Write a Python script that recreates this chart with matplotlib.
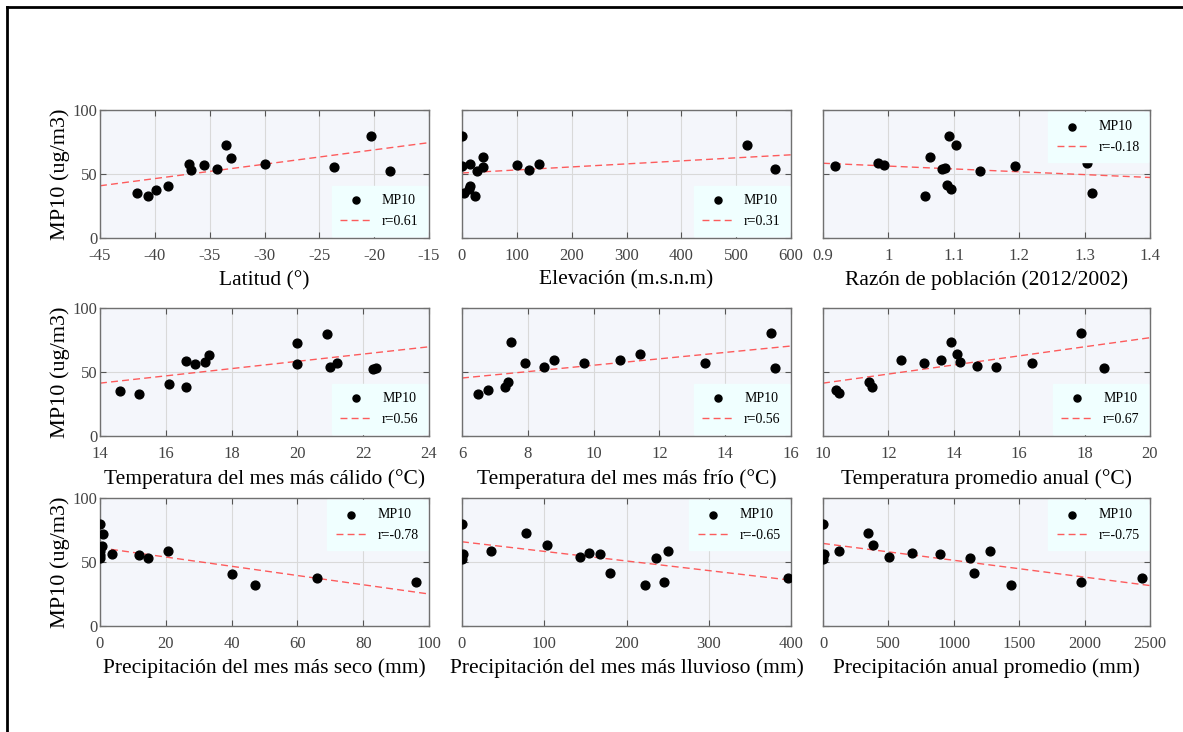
import numpy as np
import matplotlib
matplotlib.use("Agg")
import matplotlib.pyplot as plt
from matplotlib.lines import Line2D
from matplotlib.ticker import FormatStrFormatter

plt.rcParams['font.family'] = ['Liberation Serif', 'DejaVu Serif']

# values
lat_x = [-41.6, -40.6, -39.9, -38.8, -36.9, -36.7, -35.5, -34.3, -33.5, -33.1, -30.0, -23.7, -20.3, -18.6]
lat_y = [35.0, 32.9, 37.6, 40.5, 58.2, 53.4, 57.1, 53.9, 72.9, 62.6, 57.9, 55.8, 79.5, 52.1]

elev_x = [0, 0, 14, 39, 38, 27, 14, 12, 4, 23, 101, 122, 141, 519, 571]
elev_y = [79.7, 56.6, 58.2, 62.9, 55.8, 52.4, 40.8, 38.4, 35.0, 32.9, 57.4, 53.2, 58.2, 72.9, 53.9]

raz_x = [0.918, 0.984, 0.994, 1.064, 1.092, 1.104, 1.082, 1.087, 1.089, 1.095, 1.056, 1.140, 1.194, 1.303, 1.311]
raz_y = [56.4, 58.7, 57.1, 63.1, 80.0, 72.7, 53.8, 54.5, 41.6, 38.0, 33.2, 52.5, 56.4, 58.7, 35.3]

tcal_x = [14.6, 15.2, 16.1, 16.6, 16.6, 16.9, 17.2, 17.3, 20.0, 20.0, 20.9, 21.0, 21.2, 22.3, 22.4]
tcal_y = [35.3, 33.2, 40.5, 37.9, 58.4, 56.6, 58.2, 62.9, 72.9, 56.3, 80.0, 53.9, 57.4, 52.6, 53.4]

tfri_x = [6.5, 6.8, 7.3, 7.4, 7.5, 7.9, 8.5, 8.8, 9.7, 10.8, 11.4, 13.4, 15.4, 15.5]
tfri_y = [33.2, 35.6, 38.5, 41.9, 73.4, 57.4, 54.2, 59.2, 56.8, 59.2, 63.9, 57.1, 80.8, 52.9]

tprom_x = [10.4, 10.5, 11.4, 11.5, 12.4, 13.1, 13.6, 13.9, 14.1, 14.2, 14.7, 15.3, 16.4, 17.9, 18.6]
tprom_y = [35.8, 33.4, 42.1, 38.4, 59.5, 56.8, 59.5, 73.4, 63.7, 57.6, 54.7, 54.2, 56.8, 80.8, 52.9]

pseco_x = [0, 1, 0.5, 0, 0, 0, 3.7, 11.8, 14.7, 20.7, 40, 47, 65.9, 96]
pseco_y = [79.7, 72.1, 62.6, 58.4, 55.5, 52.9, 56.3, 55.5, 52.9, 58.4, 40.5, 32.1, 37.4, 34.5]

plluv_x = [0, 1, 0, 78, 35, 103, 143, 154, 168, 180, 223, 236, 246, 250, 396]
plluv_y = [80.0, 56.6, 52.6, 72.6, 58.4, 63.2, 53.7, 56.8, 56.6, 41.1, 32.4, 53.4, 34.7, 58.4, 37.6]

panu_x = [0, 5, 0, 121, 341, 384, 503, 682, 894, 1126, 1154, 1273, 1434, 1970, 2442]
panu_y = [80.0, 56.6, 52.6, 58.4, 72.6, 63.2, 53.7, 56.8, 56.3, 53.4, 41.1, 58.4, 32.4, 34.7, 37.6]

# trend line ends (value at left and right x limit)
fit_ends = [[40.8, 74.5], [50.8, 65.0], [58.4, 47.3],
            [41.3, 69.7], [45.3, 70.3], [41.3, 76.8],
            [61.1, 25.0], [65.8, 35.8], [64.5, 31.6]]
r_labels = ["r=0.61", "r=0.31", "r=-0.18", "r=0.56", "r=0.56", "r=0.67",
            "r=-0.78", "r=-0.65", "r=-0.75"]
xlabels = ["Latitud (°)", "Elevación (m.s.n.m)", "Razón de población (2012/2002)",
           "Temperatura del mes más cálido (°C)", "Temperatura del mes más frío (°C)",
           "Temperatura promedio anual (°C)",
           "Precipitación del mes más seco (mm)", "Precipitación del mes más lluvioso (mm)",
           "Precipitación anual promedio (mm)"]
xlims = [(-45, -15), (0, 600), (0.9, 1.4), (14, 24), (6, 16), (10, 20),
         (0, 100), (0, 400), (0, 2500)]
xsteps = [5, 100, 0.1, 2, 2, 2, 20, 100, 500]
leg_locs = ["lower right", "lower right", "upper right",
            "lower right", "lower right", "lower right",
            "upper right", "upper right", "upper right"]

xs = [lat_x, elev_x, raz_x, tcal_x, tfri_x, tprom_x, pseco_x, plluv_x, panu_x]
ys = [lat_y, elev_y, raz_y, tcal_y, tfri_y, tprom_y, pseco_y, plluv_y, panu_y]

fig = plt.figure(figsize=(11.83, 7.32), dpi=100)

lefts = [100, 462, 823]
widths = [329, 329, 327]
tops = [110, 308, 498]
H = 128

for i in range(9):
    row, col = divmod(i, 3)
    ax = fig.add_axes([lefts[col] / 1183, 1 - (tops[row] + H) / 732,
                       widths[col] / 1183, H / 732])
    ax.set_facecolor('#f4f6fb')
    ax.scatter(xs[i], ys[i], s=40, color='black', zorder=3, label='MP10')
    ax.plot(xlims[i], fit_ends[i], color='#ff4040', lw=1.0, alpha=0.85,
            dashes=(5, 3), label=r_labels[i], zorder=2)
    ax.set_xlim(*xlims[i])
    ax.set_ylim(0, 100)
    ax.set_xticks(np.arange(xlims[i][0], xlims[i][1] + xsteps[i] / 2, xsteps[i]))
    ax.xaxis.set_major_formatter(FormatStrFormatter('%g'))
    ax.set_yticks([0, 50, 100])
    ax.grid(True, color='#d9d9d9', lw=0.8)
    ax.set_axisbelow(True)
    ax.tick_params(direction='in', length=4, top=True, right=True,
                   labelsize=12, colors='#555555', labelcolor='#444444')
    ax.tick_params(axis='x', pad=7)
    ax.tick_params(axis='y', pad=2)
    for sp in ax.spines.values():
        sp.set_color('#707070')
        sp.set_linewidth(1.0)
    if col != 0:
        ax.set_yticklabels([])
    else:
        ax.set_ylabel('MP10 (ug/m3)', fontsize=16)
        ax.yaxis.set_label_coords(-0.09, 0.5)
    ax.set_xlabel(xlabels[i], fontsize=15.5, labelpad=5)
    leg = ax.legend(loc=leg_locs[i], fontsize=10, frameon=True, fancybox=False,
                    borderpad=0.6, labelspacing=0.55, handlelength=2.2,
                    borderaxespad=0.15, markerscale=0.8)
    leg.get_frame().set_facecolor('#f0ffff')
    leg.get_frame().set_edgecolor('#f0ffff')
    leg.get_frame().set_alpha(1)

# frame lines at the top and left edge
fig.add_artist(Line2D([7 / 1183, 1], [1 - 7 / 732, 1 - 7 / 732],
                      color='black', lw=2, transform=fig.transFigure))
fig.add_artist(Line2D([7 / 1183, 7 / 1183], [0, 1 - 7 / 732],
                      color='black', lw=2, transform=fig.transFigure))

fig.savefig('out.png', dpi=100)
